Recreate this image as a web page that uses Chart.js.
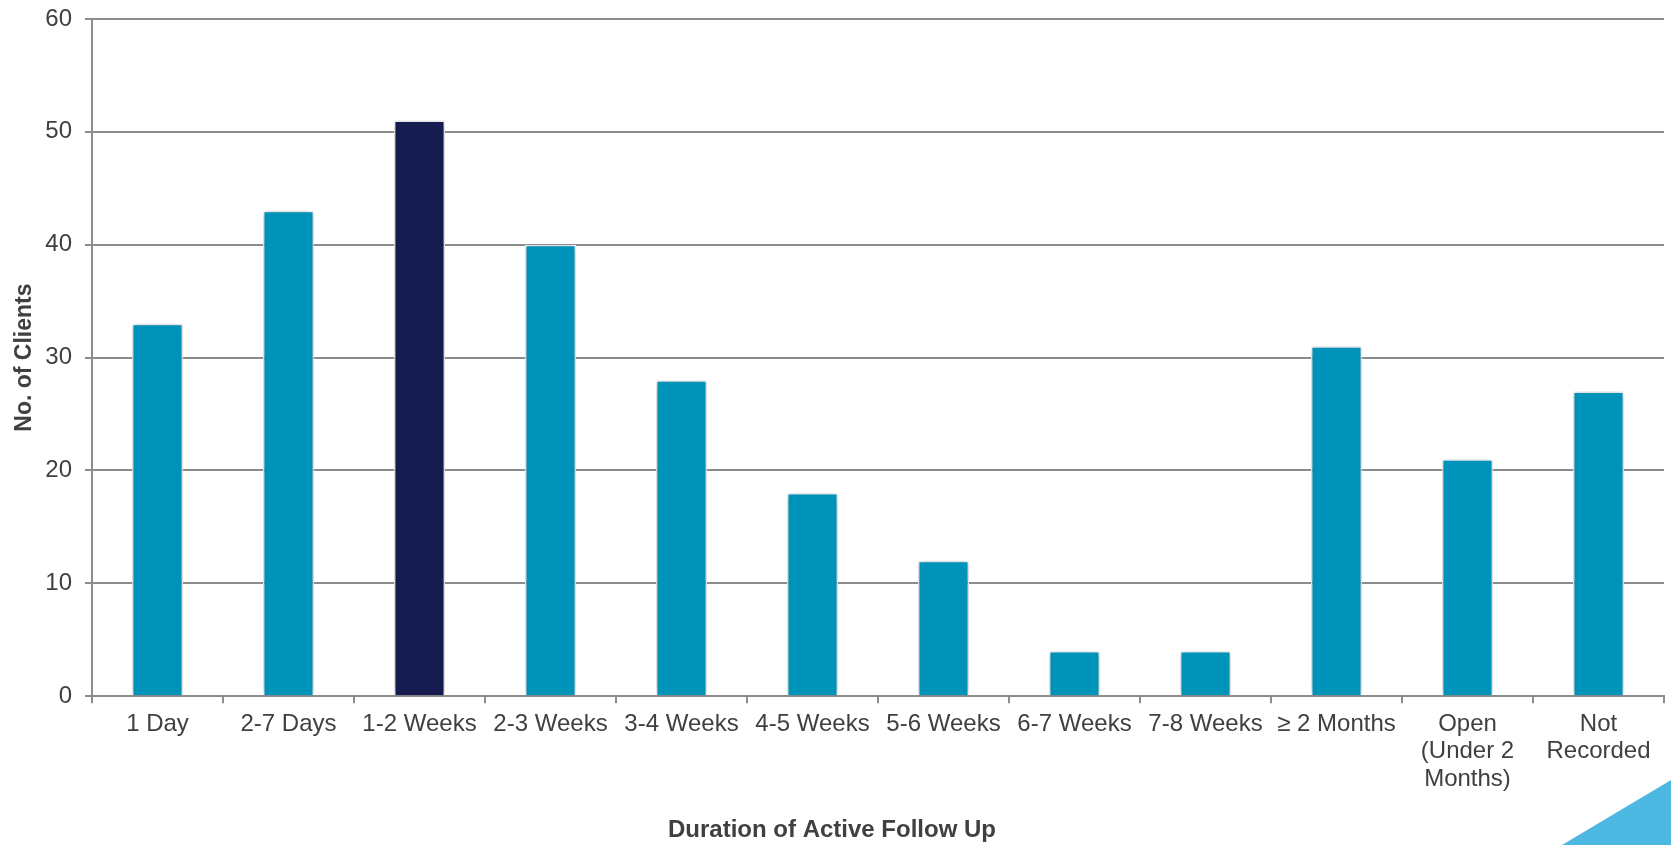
<!DOCTYPE html>
<html>
<head>
<meta charset="utf-8">
<title>Duration of Active Follow Up</title>
<script src="https://cdn.jsdelivr.net/npm/chart.js@4/dist/chart.umd.min.js"></script>
<style>
    html, body { margin: 0; padding: 0; background: #fff; }
    #wrap { position: relative; width: 1671px; height: 845px; overflow: hidden; }
    #corner {
        position: absolute; left: 1562px; top: 780px; width: 109px; height: 65px;
        background: #4db8e2;
        clip-path: polygon(0 100%, 100% 0, 100% 100%);
    }
</style>
</head>
<body>
<div id="wrap">
    <canvas id="followChart" width="1671" height="845"></canvas>
    <div id="corner"></div>
</div>
<script>
// categories and counts
const durations = [
    '1 Day', '2-7 Days', '1-2 Weeks', '2-3 Weeks', '3-4 Weeks', '4-5 Weeks',
    '5-6 Weeks', '6-7 Weeks', '7-8 Weeks', '\u2265 2 Months',
    ['Open', '(Under 2', 'Months)'], ['Not', 'Recorded']
];
const clients = [33, 43, 51, 40, 28, 18, 12, 4, 4, 31, 21, 27];
const yTicks = [0, 10, 20, 30, 40, 50, 60];
const highlightIndex = 2; // 1-2 Weeks bar is drawn dark

const teal = '#0093ba';
const navy = '#161c50';
const gridGrey = '#8c8c8c';
const textGrey = '#404040';

document.addEventListener('DOMContentLoaded', () => {
    const ctx = document.getElementById('followChart').getContext('2d');

    // soft shadow around the bars, like the original slide
    const barShadow = {
        id: 'barShadow',
        beforeDatasetsDraw(chart) {
            chart.ctx.save();
            chart.ctx.shadowColor = 'rgba(0, 0, 0, 0.3)';
            chart.ctx.shadowBlur = 7;
        },
        afterDatasetsDraw(chart) {
            chart.ctx.restore();
        }
    };

    new Chart(ctx, {
        type: 'bar',
        data: {
            labels: durations,
            datasets: [{
                data: clients,
                backgroundColor: clients.map((v, i) => i === highlightIndex ? navy : teal),
                borderColor: '#ffffff',
                borderWidth: 1.5,
                barPercentage: 0.39,
                categoryPercentage: 1
            }]
        },
        options: {
            responsive: false,
            animation: false,
            devicePixelRatio: 1,
            layout: { padding: { top: 19, right: 7, left: 0, bottom: 0 } },
            plugins: {
                legend: { display: false },
                tooltip: { enabled: false },
                title: {
                    display: true,
                    position: 'bottom',
                    text: 'Duration of Active Follow Up',
                    color: textGrey,
                    font: { family: 'Liberation Sans', size: 24, weight: 'bold', lineHeight: 1.2 },
                    padding: { top: 0, bottom: 0 }
                }
            },
            scales: {
                x: {
                    afterFit: scale => { scale.height = 120; },
                    border: { color: gridGrey, width: 2 },
                    grid: { drawOnChartArea: false, color: gridGrey, lineWidth: 2, tickLength: 7, offset: true },
                    ticks: {
                        color: textGrey,
                        padding: 7,
                        maxRotation: 0,
                        autoSkip: false,
                        font: { family: 'Liberation Sans', size: 24, lineHeight: 1.15 }
                    }
                },
                y: {
                    min: 0,
                    max: 60,
                    afterFit: scale => {
                        scale.width = 92;
                        scale.paddingTop = 0;
                        scale.paddingBottom = 0;
                    },
                    afterBuildTicks: scale => { scale.ticks = yTicks.map(v => ({ value: v })); },
                    border: { color: gridGrey, width: 2 },
                    grid: { color: gridGrey, lineWidth: 2, tickLength: 7 },
                    ticks: {
                        color: textGrey,
                        padding: 13,
                        font: { family: 'Liberation Sans', size: 24 }
                    },
                    title: {
                        display: true,
                        text: 'No. of Clients',
                        color: textGrey,
                        font: { family: 'Liberation Sans', size: 23, weight: 'bold', lineHeight: 1.2 },
                        padding: { top: 11, bottom: 0 }
                    }
                }
            }
        },
        plugins: [barShadow]
    });
});
</script>
</body>
</html>
